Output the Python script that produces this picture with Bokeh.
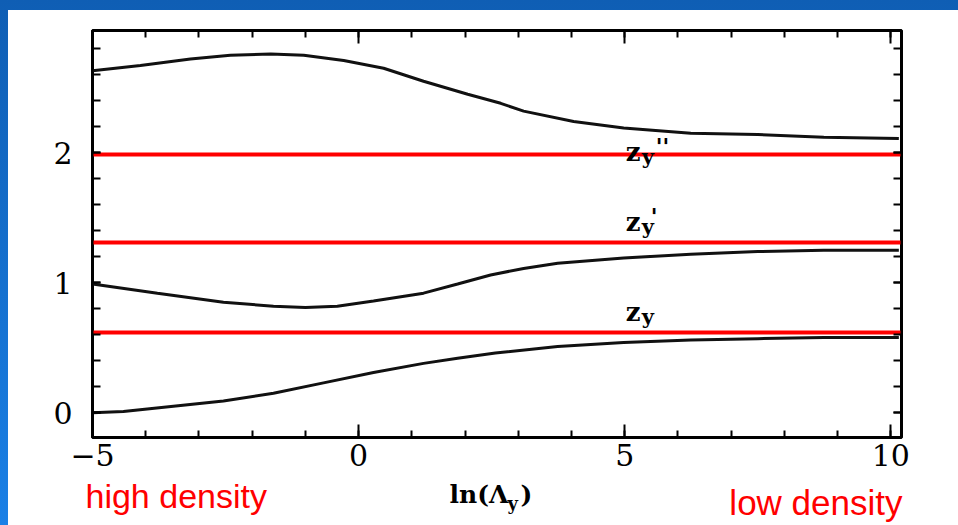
from bokeh.plotting import figure
from bokeh.models import LinearAxis, FixedTicker, Label, Range1d, CustomJSTickFormatter
from bokeh.layouts import column
from bokeh.embed import file_html
from bokeh.resources import INLINE

# ---- data ----
x_upper = [-5.0, -4.1, -3.16, -2.41, -1.65, -1.03, -0.28, 0.47, 1.22, 2.05, 2.67, 3.10, 4.04, 4.98, 6.24, 7.50, 8.74, 10.15]
y_upper = [2.63, 2.67, 2.72, 2.75, 2.76, 2.75, 2.71, 2.65, 2.55, 2.45, 2.38, 2.32, 2.24, 2.19, 2.15, 2.14, 2.12, 2.11]

x_middle = [-5.0, -3.78, -2.54, -1.6, -1.0, -0.4, 0.28, 1.22, 1.86, 2.48, 3.1, 3.74, 4.98, 6.24, 7.50, 8.74, 10.15]
y_middle = [0.99, 0.92, 0.85, 0.82, 0.81, 0.82, 0.86, 0.92, 0.99, 1.06, 1.11, 1.15, 1.19, 1.22, 1.24, 1.25, 1.25]

x_lower = [-5.0, -4.42, -3.48, -2.54, -1.60, -0.66, 0.28, 1.22, 1.86, 2.57, 3.74, 4.98, 6.24, 7.50, 8.74, 10.15]
y_lower = [0.0, 0.01, 0.05, 0.09, 0.15, 0.23, 0.31, 0.38, 0.42, 0.46, 0.51, 0.54, 0.56, 0.57, 0.58, 0.58]

z_levels = [0.62, 1.31, 1.99]
z_primes = ["", "'", "''"]

x_ticks = [-5, 0, 5, 10]
x_minor = list(range(-5, 11))
y_ticks = [0, 1, 2]
y_minor = [-0.2, 0.0, 0.2, 0.4, 0.6, 0.8, 1.0, 1.2, 1.4, 1.6, 1.8, 2.0, 2.2, 2.4, 2.6, 2.8]

x_label_main = "ln(Λ"
x_label_sub = "y"
x_label_end = ")"
left_note = "high density"
right_note = "low density"

serif = "DejaVu Serif"

# ---- main figure ----
p = figure(width=950, height=468, x_range=Range1d(-5, 10.2), y_range=Range1d(-0.19, 2.94),
           x_axis_type=None, y_axis_type=None,
           output_backend="svg", toolbar_location=None,
           min_border_left=84, min_border_right=57, min_border_top=20, min_border_bottom=41)
p.margin = (10, 0, 0, 8)
p.frame_align = False
p.background_fill_color = "white"
p.border_fill_color = "white"
p.outline_line_color = "black"
p.outline_line_width = 3


def make_axis(ticks, minor, show_labels, standoff=10, tick_major=13, tick_minor=7):
    ax = LinearAxis(ticker=FixedTicker(ticks=ticks, minor_ticks=minor))
    ax.axis_line_color = "black"
    ax.axis_line_width = 2
    ax.major_tick_in = tick_major
    ax.major_tick_out = 0
    ax.minor_tick_in = tick_minor
    ax.minor_tick_out = 0
    ax.major_tick_line_width = 2
    ax.minor_tick_line_width = 2
    ax.major_tick_line_color = "black"
    ax.minor_tick_line_color = "black"
    if show_labels:
        ax.major_label_text_font = serif
        ax.major_label_text_font_size = "30px"
        ax.major_label_text_color = "black"
        ax.major_label_standoff = standoff
    else:
        ax.formatter = CustomJSTickFormatter(code="return ''")
        ax.major_label_standoff = 0
    return ax


xb = make_axis(x_ticks, x_minor, True, 6)
xb.major_label_overrides = {-5: "−5"}
p.add_layout(xb, "below")
p.add_layout(make_axis(x_ticks, x_minor, False), "above")
p.add_layout(make_axis(y_ticks, y_minor, True, 20, 8, 8), "left")
p.add_layout(make_axis(y_ticks, y_minor, False, 0, 8, 8), "right")

# curves
for xs, ys in [(x_upper, y_upper), (x_middle, y_middle), (x_lower, y_lower)]:
    p.line(xs, ys, line_color="#111111", line_width=3)

# red levels
p.hspan(y=z_levels, line_color="#ff0000", line_width=4)

# z labels
z_dy = [5, 5, -13]
for lvl, pr, dy in zip(z_levels, z_primes, z_dy):
    p.add_layout(Label(x=5.0, y=lvl, x_offset=1, y_offset=dy, text="z",
                       text_font=serif, text_font_style="bold", text_font_size="26px",
                       text_color="black"))
    p.add_layout(Label(x=5.0, y=lvl, x_offset=17, y_offset=dy - 2, text="y",
                       text_font=serif, text_font_style="bold", text_font_size="21px",
                       text_color="black"))
    if pr:
        p.add_layout(Label(x=5.0, y=lvl, x_offset=26 if pr == "'" else 31, y_offset=dy + 8, text=pr,
                           text_font=serif, text_font_style="bold", text_font_size="22px",
                           text_color="black"))

# ---- caption strip below the chart ----
q = figure(width=950, height=47, x_range=Range1d(0, 950), y_range=Range1d(0, 47),
           x_axis_type=None, y_axis_type=None, output_backend="svg", toolbar_location=None,
           min_border=0)
q.margin = (0, 0, 0, 8)
q.frame_align = False
q.outline_line_color = None
q.background_fill_color = "white"
q.border_fill_color = "white"

q.add_layout(Label(x=441, y=17, text=x_label_main, text_font=serif, text_font_style="bold",
                   text_font_size="25px", text_color="black"))
q.add_layout(Label(x=499, y=12, text=x_label_sub, text_font=serif, text_font_style="bold",
                   text_font_size="18px", text_color="black"))
q.add_layout(Label(x=512, y=17, text=x_label_end, text_font=serif, text_font_style="bold",
                   text_font_size="25px", text_color="black"))
q.add_layout(Label(x=77, y=11, text=left_note, text_font="Liberation Sans",
                   text_font_size="34px", text_color="#ff0000"))
q.add_layout(Label(x=894, y=4, text=right_note, text_align="right", text_font="Liberation Sans",
                   text_font_size="35px", text_color="#ff0000"))

bg = ("linear-gradient(white, white) 8px 10px / calc(100% - 8px) calc(100% - 10px) no-repeat, "
      "linear-gradient(to bottom, #0f5eb4, #1a80e6)")
page = column(p, q, spacing=0, styles={"background": bg})

open("out.html", "w").write(file_html(page, INLINE))
